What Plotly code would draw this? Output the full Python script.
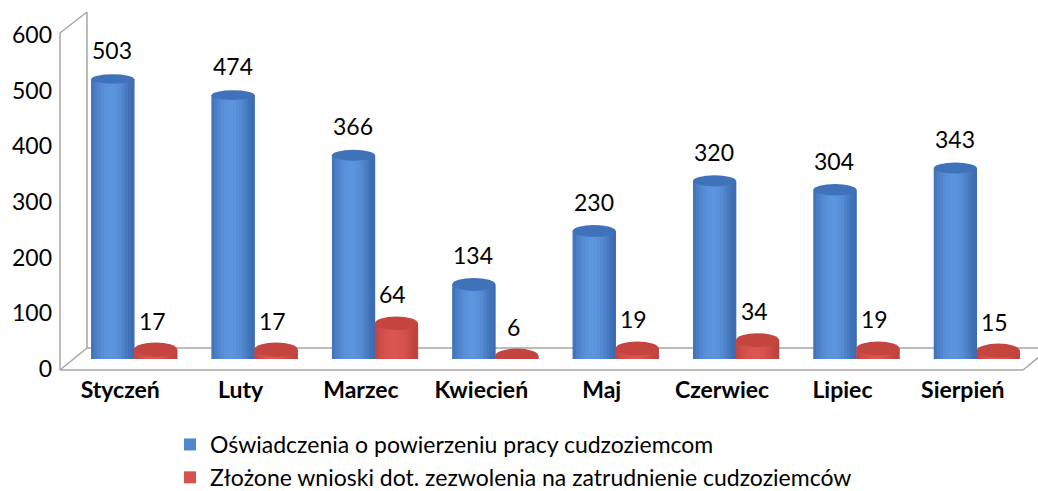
import math
import plotly.graph_objects as go

months = ["Styczeń", "Luty", "Marzec", "Kwiecień", "Maj", "Czerwiec", "Lipiec", "Sierpień"]
oswiadczenia = [503, 474, 366, 134, 230, 320, 304, 343]
wnioski = [17, 17, 64, 6, 19, 34, 19, 15]
series_names = ["Oświadczenia o powierzeniu pracy cudzoziemcom",
                "Złożone wnioski dot. zezwolenia na zatrudnienie cudzoziemców"]
y_ticks = [0, 100, 200, 300, 400, 500, 600]

W, H = 1038, 491
FONT = "Lato"


def px(x):
    return x / W


def py(y):
    return 1 - y / H


BLUE, BLUE_TOP = "#4F86CE", "#3F72B8"
BLUE_DARK, BLUE_LIGHT = (62, 108, 178), (92, 150, 222)
RED, RED_TOP = "#D5524E", "#C4453F"
RED_DARK, RED_LIGHT = (190, 66, 62), (220, 86, 82)


def lerp(c1, c2, t):
    return "rgb(%d,%d,%d)" % tuple(round(a + (b - a) * t) for a, b in zip(c1, c2))


fig = go.Figure()
fig.add_trace(go.Bar(x=months, y=oswiadczenia, name=series_names[0],
                     marker=dict(color=BLUE, line=dict(width=0)),
                     legendgroup="a", xaxis="x", yaxis="y", hoverinfo="skip"))
fig.add_trace(go.Bar(x=months, y=wnioski, name=series_names[1],
                     marker=dict(color=RED, line=dict(width=0)),
                     legendgroup="b", xaxis="x", yaxis="y", hoverinfo="skip"))
# carrier trace for the front-plane axes (tick labels)
fig.add_trace(go.Scatter(x=[], y=[], xaxis="x2", yaxis="y2", showlegend=False, hoverinfo="skip"))

bargap = 0.286
bw = (1 - bargap) / 2
NSTRIP = 14
shapes = []
annotations = []
for i, m in enumerate(months):
    for vals, body, top, dark, light, x0, xs in (
            (oswiadczenia, BLUE, BLUE_TOP, BLUE_DARK, BLUE_LIGHT, i - bw, -22),
            (wnioski, RED, RED_TOP, RED_DARK, RED_LIGHT, i, 18)):
        v = vals[i]
        # perspective: ellipses look flatter higher up
        hh = 4.3 + 2.8 * (1 - v / 600)
        # bottom rounded end
        shapes.append(dict(type="circle", xref="x", yref="y", x0=x0, x1=x0 + bw,
                           ysizemode="pixel", yanchor=0, y0=-7, y1=7,
                           fillcolor=lerp(dark, light, 0.6), line=dict(width=0), layer="below"))
        # cylinder shading strips
        for k in range(NSTRIP):
            c = (k + 0.5) / NSTRIP
            t = max(0.0, math.cos((c - 0.45) * math.pi * 1.05))
            shapes.append(dict(type="rect", xref="x", yref="y",
                               x0=x0 + bw * k / NSTRIP, x1=x0 + bw * (k + 1) / NSTRIP + 0.002,
                               y0=0, y1=v, fillcolor=lerp(dark, light, t),
                               line=dict(width=0), layer="above"))
        # top ellipse
        shapes.append(dict(type="circle", xref="x", yref="y", x0=x0, x1=x0 + bw,
                           ysizemode="pixel", yanchor=v, y0=-hh, y1=hh,
                           fillcolor=top, line=dict(width=0), layer="above"))
        annotations.append(dict(x=m, y=v, xref="x", yref="y", text=str(v),
                                showarrow=False, yanchor="bottom", xshift=xs, yshift=13,
                                font=dict(family=FONT, size=23, color="#000")))

# 3D frame lines (pixel positions of the wall/floor outline)
frame = [((60, 33), (60, 370)), ((60, 33), (87, 12)), ((87, 12), (87, 348)),
         ((60, 370), (87, 348)), ((60, 370), (1023, 370)), ((1023, 370), (1050, 348)),
         ((87, 348), (1040, 348))]
for (xa, ya), (xb, yb) in frame:
    shapes.append(dict(type="line", xref="paper", yref="paper",
                       x0=px(xa), y0=py(ya), x1=px(xb), y1=py(yb),
                       line=dict(color="#A6A6A6", width=1.5), layer="below"))

fig.update_layout(
    width=W, height=H,
    margin=dict(l=0, r=0, t=0, b=0, autoexpand=False),
    paper_bgcolor="white", plot_bgcolor="rgba(0,0,0,0)",
    barmode="group", bargap=bargap, bargroupgap=0,
    font=dict(family=FONT, size=22, color="#000"),
    xaxis=dict(domain=[px(74), px(1037)], showticklabels=False, showgrid=False,
               zeroline=False, showline=False, range=[-0.5, 7.5], automargin=False),
    yaxis=dict(domain=[py(359), py(25)], range=[0, 600], showticklabels=False,
               showgrid=False, zeroline=False, showline=False, automargin=False),
    xaxis2=dict(domain=[px(60), px(1023)], anchor="y2", range=[-0.5, 7.5],
                tickmode="array", tickvals=list(range(len(months))), ticktext=months,
                tickfont=dict(family=FONT, size=23, color="#000", weight="bold"),
                showgrid=False, zeroline=False, showline=False, ticks="",
                ticklabelstandoff=5, automargin=False),
    yaxis2=dict(domain=[py(369), py(35)], range=[0, 600], anchor="free", position=px(52),
                tickmode="array", tickvals=y_ticks,
                tickfont=dict(family=FONT, size=23, color="#000"),
                showgrid=False, zeroline=False, showline=False, ticks="", automargin=False),
    legend=dict(x=px(170), xanchor="left", y=py(423), yanchor="top",
                font=dict(family=FONT, size=23, color="#000"),
                bgcolor="rgba(0,0,0,0)", tracegroupgap=2, traceorder="normal"),
    shapes=shapes,
    annotations=annotations,
)

fig.write_html("out.html", config={"displayModeBar": False},
               post_script="document.body.style.margin='0';")
